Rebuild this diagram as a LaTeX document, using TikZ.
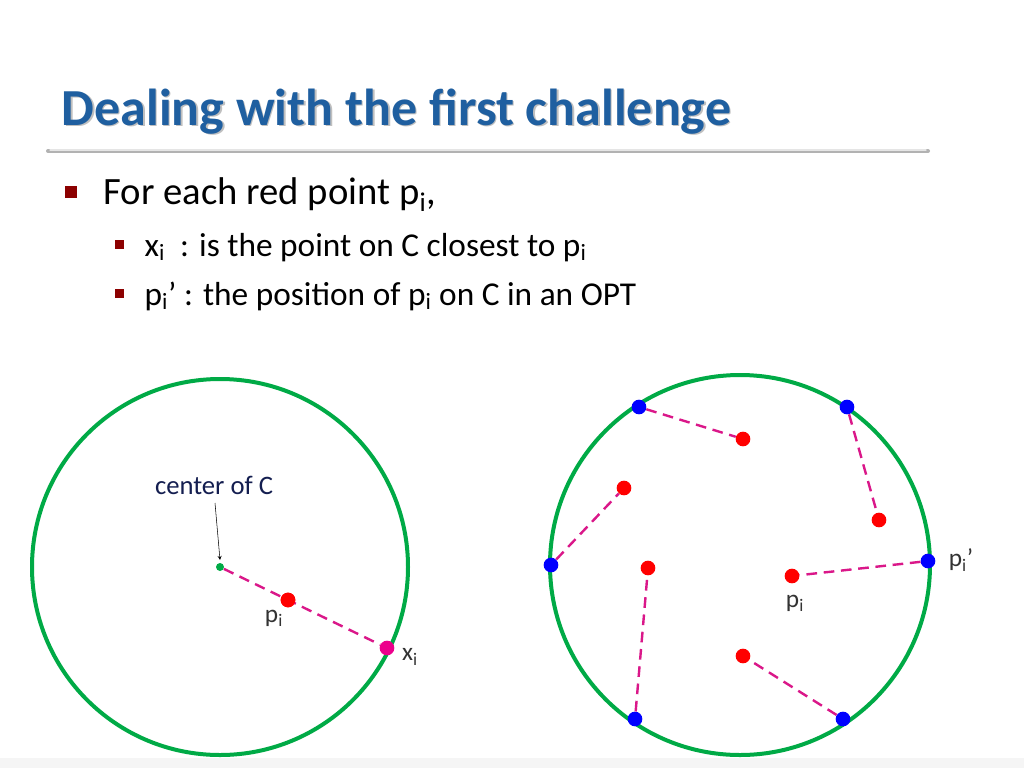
\documentclass[tikz,border=0pt]{standalone}
\usepackage{fontspec}
\setmainfont{Carlito}
\definecolor{cgreen}{RGB}{0,170,70}
\begin{document}
\begin{tikzpicture}[x=0.75pt,y=-0.75pt,
  circ/.style={draw=cgreen, line width=3pt},
  red/.style={circle,fill=red,inner sep=0pt,minimum size=11pt},
  blue/.style={circle,fill=blue,inner sep=0pt,minimum size=11pt},
  link/.style={draw=magenta!80!violet, line width=1.8pt, dash pattern=on 8pt off 5pt},
  lbl/.style={font=\fontsize{19}{19}\selectfont, text=black!80}]
\useasboundingbox (0,0) rectangle (1024,768);
\fill[white] (0,0) rectangle (1024,768);
\fill[black!4] (0,758) rectangle (1024,768);
% title
\node[anchor=base west, text=black!25, font=\bfseries\fontsize{39}{39}\selectfont] at (58.5,126.5) {Dealing with the first challenge};
\node[anchor=base west, text={rgb,255:red,31;green,95;blue,160}, font=\bfseries\fontsize{39}{39}\selectfont] (title) at (57,125) {Dealing with the first challenge};
\draw[line width=3pt, black!30, line cap=round] (48,151) -- (928,151);
\draw[line width=1pt, black!10, line cap=round] (50,150) -- (926,150);
% bullets
\fill[red!55!black] (65,186) rectangle (77,198);
\node[anchor=base west, font=\fontsize{29}{29}\selectfont] (b1) at (99,204) {For each red point p\textsubscript{i},};
\fill[red!55!black] (115,240) rectangle (124,249);
\node[anchor=base west, font=\fontsize{25}{25}\selectfont] (b2) at (140,256) {x\textsubscript{i}~ : is the point on C closest to p\textsubscript{i}};
\fill[red!55!black] (115,289) rectangle (124,298);
\node[anchor=base west, font=\fontsize{25}{25}\selectfont] (b3) at (140,305) {p\textsubscript{i}’ : the position of p\textsubscript{i} on C in an OPT};
% left circle
\draw[circ] (220,567) circle (188);
\node[circle,fill=cgreen,inner sep=0pt,minimum size=6pt] (c) at (220,567) {};
\node[red] (p) at (288,600) {};
\node[circle,fill=magenta,inner sep=0pt,minimum size=11pt] (x) at (387,648) {};
\draw[link] (c) -- (x);
\node[red] at (288,600) {};
\node[font=\fontsize{20}{20}\selectfont, text={rgb,255:red,20;green,30;blue,80}] (cl) at (214,485) {center of C};
\coordinate (ca) at (220,560);
\draw[-stealth, thin] (215,503) -- (ca);
\node[lbl] (pl) at (274,618) {p\textsubscript{i}};
\node[lbl] (xl) at (410,657) {x\textsubscript{i}};
% right circle
\draw[circ] (740,565) circle (190);
\foreach \n/\bx/\by/\rx/\ry in {1/639/407/743/439, 2/847/407/879/520, 3/551/565/624/488, 4/928/561/792/576, 5/635/719/648/568, 6/843/719/743/656}{
  \node[blue] (b\n) at (\bx,\by) {};
  \node[red] (r\n) at (\rx,\ry) {};
  \draw[link] (b\n) -- (r\n);
}
\node[lbl] (pp) at (961,560) {p\textsubscript{i}’};
\node[lbl] (pr) at (795,603) {p\textsubscript{i}};
\end{tikzpicture}
\end{document}
